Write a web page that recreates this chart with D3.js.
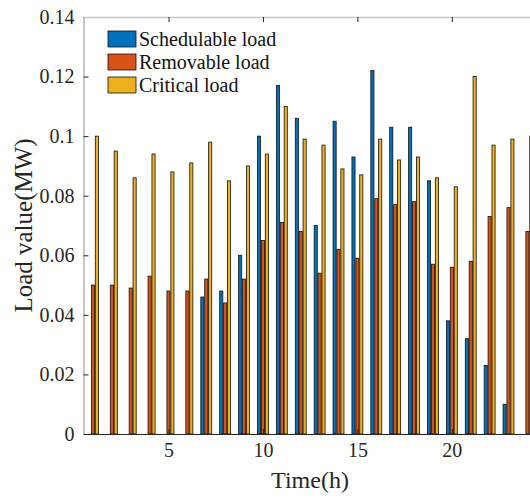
<!DOCTYPE html>
<html>
<head>
<meta charset="utf-8">
<script src="https://cdn.jsdelivr.net/npm/d3@7"></script>
<style>
  body { margin: 0; background: #fff; }
  svg { display: block; font-family: "Liberation Serif", "Times New Roman", serif; }
</style>
</head>
<body>
<svg id="chart" width="530" height="498"></svg>
<script>
const hours = d3.range(1, 25);
const schedulable = [0, 0, 0, 0, 0, 0, 0.046, 0.048, 0.060, 0.100, 0.117, 0.106, 0.070, 0.105, 0.093, 0.122, 0.103, 0.103, 0.085, 0.038, 0.032, 0.023, 0.010, 0];
const removable   = [0.050, 0.050, 0.049, 0.053, 0.048, 0.048, 0.052, 0.044, 0.052, 0.065, 0.071, 0.068, 0.054, 0.062, 0.059, 0.079, 0.077, 0.078, 0.057, 0.056, 0.058, 0.073, 0.076, 0.068];
const critical    = [0.100, 0.095, 0.086, 0.094, 0.088, 0.091, 0.098, 0.085, 0.090, 0.094, 0.110, 0.099, 0.097, 0.089, 0.087, 0.099, 0.092, 0.093, 0.086, 0.083, 0.120, 0.097, 0.099, 0.100];
const seriesNames = ["Schedulable load", "Removable load", "Critical load"];
const seriesColors = ["#0072BD", "#D95319", "#EDB120"];
const yTicks = [0, 0.02, 0.04, 0.06, 0.08, 0.1, 0.12, 0.14];
const xTicks = [5, 10, 15, 20];

const series = [schedulable, removable, critical];

(function () {
const svg = d3.select("#chart");
const mLeft = 83.5, mTop = 17, mBottom = 434;
const unit = 18.89;
const mRight = mLeft + 24 * unit;

const x = d3.scaleLinear().domain([0.5, 24.5]).range([mLeft, mRight]);
const y = d3.scaleLinear().domain([0, 0.14]).range([mBottom, mTop]);
const sub = d3.scaleBand().domain(d3.range(3)).range([-0.31, 0.31]);

// bars
const g = svg.append("g");
series.forEach((vals, si) => {
  g.selectAll(null)
    .data(hours.map((h, i) => ({h, v: vals[i]})))
    .enter().append("rect")
    .attr("x", d => x(d.h + sub(si) + sub.bandwidth() * 0.1))
    .attr("width", x(sub.bandwidth() * 0.8) - x(0))
    .attr("y", d => y(d.v))
    .attr("height", d => y(0) - y(d.v))
    .attr("fill", seriesColors[si])
    .attr("stroke", "#111")
    .attr("stroke-width", 0.8);
});

// axes
const axisColor = "#262626";
const yAxis = d3.axisLeft(y).tickValues(yTicks).tickFormat(d => String(+d.toFixed(2))).tickSizeInner(-5).tickSizeOuter(0).tickPadding(9);
const ya = svg.append("g").attr("transform", `translate(${mLeft},0)`).call(yAxis);
const xAxis = d3.axisBottom(x).tickValues(xTicks).tickFormat(d3.format("d")).tickSizeInner(-5).tickSizeOuter(0).tickPadding(9);
const xa = svg.append("g").attr("transform", `translate(0,${mBottom})`).call(xAxis);
const xTop = d3.axisTop(x).tickValues(xTicks).tickFormat("").tickSizeInner(-5).tickSizeOuter(0);
const xt = svg.append("g").attr("transform", `translate(0,${mTop})`).call(xTop);

[ya, xa, xt].forEach(a => {
  a.attr("font-family", "Liberation Serif");
  a.selectAll("path").attr("stroke", axisColor).attr("stroke-width", 1);
  a.selectAll("line").attr("stroke", axisColor).attr("stroke-width", 1);
  a.selectAll("text").attr("fill", axisColor).style("font-size", "20px");
});
xt.select("path").attr("stroke", "#c8c8c8").attr("stroke-width", 1.5);
ya.select("path").attr("stroke", "#8a8a8a");

// axis titles
svg.append("text")
  .attr("x", 310).attr("y", 488)
  .attr("text-anchor", "middle")
  .attr("fill", axisColor)
  .style("font-size", "24px")
  .text("Time(h)");
svg.append("text")
  .attr("transform", `translate(32,${(mTop + mBottom) / 2}) rotate(-90)`)
  .attr("text-anchor", "middle")
  .attr("fill", axisColor)
  .style("font-size", "25px")
  .text("Load value(MW)");

// legend
const lg = svg.append("g").attr("transform", "translate(108,31)");
seriesNames.forEach((name, i) => {
  const row = lg.append("g").attr("transform", `translate(0,${i * 23})`);
  row.append("rect").attr("width", 28).attr("height", 16)
    .attr("fill", seriesColors[i]).attr("stroke", "#111").attr("stroke-width", 0.8);
  row.append("text").attr("x", 31).attr("y", 14.5)
    .attr("fill", "#111").style("font-size", "20px").text(name);
});
})();
</script>
</body>
</html>
